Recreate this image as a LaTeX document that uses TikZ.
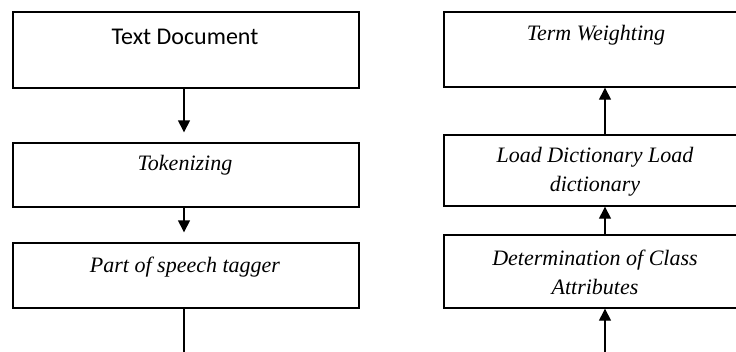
\documentclass[tikz,border=0pt]{standalone}
\usepackage{fontspec}
\setmainfont{Liberation Serif}
\newfontfamily\carlito{Carlito}
\usetikzlibrary{arrows.meta}
\tikzset{
  box/.style={draw, line width=1.4pt, rectangle, inner sep=0pt},
  txt/.style={font=\fontsize{22}{29}\selectfont\itshape, align=center, inner sep=0pt},
  arr/.style={line width=1.4pt, -{Triangle[width=12pt,length=12pt]}},
}
\begin{document}
\begin{tikzpicture}[x=1pt,y=-1pt]
\useasboundingbox (0,0) rectangle (736,351);
\clip (0,0) rectangle (736,351);
% left column
\node[box, minimum width=346, minimum height=76] (a) at (186,50) {};
\node[font=\carlito\fontsize{24}{28}\selectfont, inner sep=0pt] (at) at (185,37) {Text Document};
\node[box, minimum width=346, minimum height=64] (b) at (186,175) {};
\node[txt] (bt) at (185,165) {Tokenizing};
\node[box, minimum width=346, minimum height=65] (c) at (186,275.5) {};
\node[txt] (ct) at (185,267) {Part of speech tagger};
\coordinate (cend) at (184,360);
\draw[arr, shorten >=10pt] (a.south -| 184,0) -- (b.north -| 184,0);
\draw[arr, shorten >=10pt] (b.south -| 184,0) -- (c.north -| 184,0);
\draw[line width=1.4pt] (c.south -| 184,0) -- (cend);
% right column
\node[box, minimum width=346, minimum height=75] (d) at (617,49.5) {};
\node[txt] (dt) at (596,35) {Term Weighting};
\node[box, minimum width=346, minimum height=71] (e) at (617,170.5) {};
\node[txt] (et) at (595,172) {Load Dictionary Load\\dictionary};
\node[box, minimum width=346, minimum height=73] (f) at (617,271.5) {};
\node[txt] (ft) at (595,272) {Determination of Class\\Attributes};
\coordinate (fstart) at (605,360);
\draw[arr] (e.north -| 605,0) -- (d.south -| 605,0);
\draw[arr] (f.north -| 605,0) -- (e.south -| 605,0);
\draw[arr] (fstart) -- (f.south -| 605,0);
\end{tikzpicture}
\end{document}
